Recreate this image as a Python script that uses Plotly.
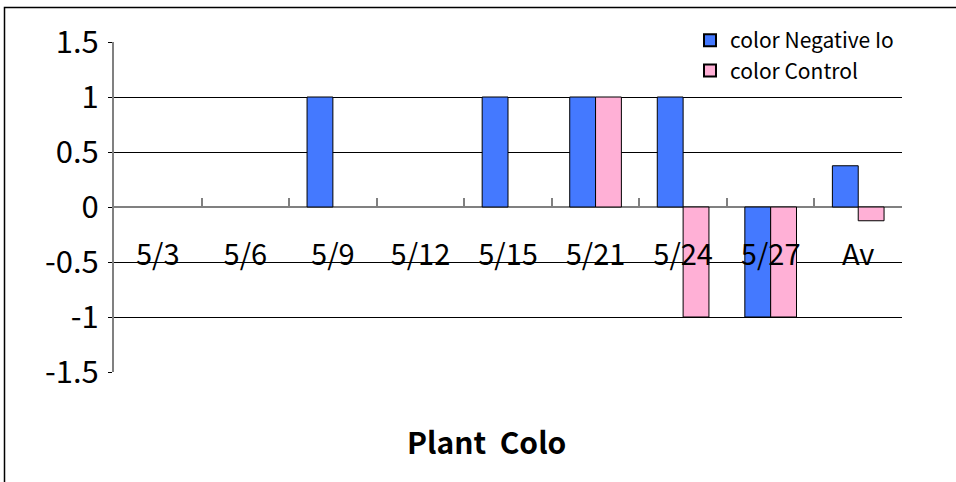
import plotly.graph_objects as go

# Dates of the plant colour observations plus the overall average
categories = ["5/3", "5/6", "5/9", "5/12", "5/15", "5/21", "5/24", "5/27", "Av"]
negative_ion = [0, 0, 1, 0, 1, 1, 1, -1, 0.375]
control = [0, 0, 0, 0, 0, 1, -1, -1, -0.125]
y_ticks = [-1.5, -1, -0.5, 0, 0.5, 1, 1.5]

FONT = "Noto Sans CJK JP, Noto Sans, sans-serif"
W, H = 956, 482
L, R, T, B = 114, 54, 42, 110
PW, PH = W - L - R, H - T - B


def px_x(p):
    return (p - L) / PW


def px_y(p):
    return (H - B - p) / PH


def outline_widths(values):
    # zero-height bars get no outline so they stay invisible
    return [1 if v != 0 else 0 for v in values]


fig = go.Figure()
fig.add_trace(go.Bar(
    x=categories, y=negative_ion, name="color Negative Io",
    marker=dict(color="#4479FF",
                line=dict(color="#000000", width=outline_widths(negative_ion))),
))
fig.add_trace(go.Bar(
    x=categories, y=control, name="color Control",
    marker=dict(color="#FFB0D6",
                line=dict(color="#000000", width=outline_widths(control))),
))

fig.update_layout(
    width=W, height=H,
    margin=dict(l=L, r=R, t=T, b=B),
    paper_bgcolor="white", plot_bgcolor="white",
    barmode="group", bargap=0.41, bargroupgap=0,
    font=dict(family=FONT, color="#000000"),
    showlegend=True,
    legend=dict(
        x=px_x(690), y=px_y(20), xanchor="left", yanchor="top",
        bgcolor="white", borderwidth=0,
        font=dict(size=21, family=FONT),
        itemsizing="constant", tracegroupgap=4,
    ),
    xaxis=dict(
        type="category", anchor="free", position=0.5,
        showline=False, showgrid=False, zeroline=False,
        ticks="inside", tickson="boundaries", ticklen=9,
        tickcolor="#808080", tickwidth=1.5,
        tickfont=dict(size=29, family=FONT),
        ticklabelstandoff=28,
    ),
    yaxis=dict(
        range=[-1.5, 1.5], tickvals=y_ticks,
        ticktext=[("%g" % v) for v in y_ticks],
        showgrid=True, gridcolor="#000000", gridwidth=1,
        zeroline=True, zerolinecolor="#808080", zerolinewidth=2,
        showline=True, linecolor="#808080", linewidth=2,
        ticks="outside", ticklen=4, tickcolor="#000000",
        tickfont=dict(size=31, family=FONT),
        ticklabelstandoff=3,
    ),
)

# Axis title below the plot
fig.add_annotation(
    text="Plant\u00a0\u00a0Colo", xref="paper", yref="paper",
    x=px_x(486), y=px_y(441), xanchor="center", yanchor="middle",
    showarrow=False, font=dict(size=30, family=FONT, weight="bold"),
)

# Chart frame
fig.add_shape(
    type="rect", xref="paper", yref="paper", layer="below",
    x0=px_x(4.5), x1=px_x(990), y0=px_y(520), y1=px_y(7.5),
    line=dict(color="#000000", width=1.5), fillcolor="rgba(0,0,0,0)",
)

fig.write_html("out.html")
